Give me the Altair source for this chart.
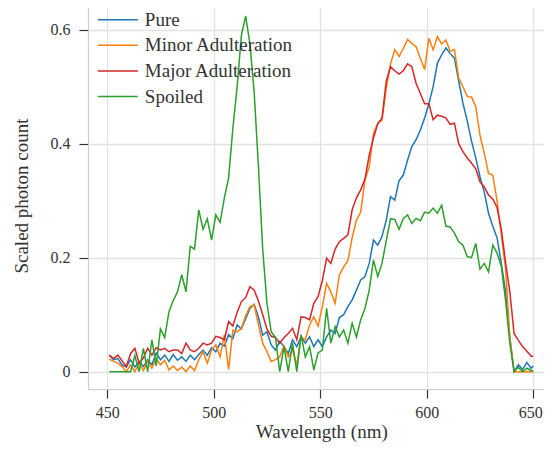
import altair as alt
import pandas as pd

# Wavelength grid (nm)
wavelengths = list(range(451, 650, 2)) + [650]

series_names = ["Pure", "Minor Adulteration", "Major Adulteration", "Spoiled"]
series_colors = ["#1f77b4", "#ff7f0e", "#d62728", "#2ca02c"]

pure = [
    0.029, 0.021, 0.023, 0.012, 0.008, 0.021, 0.008, 0.018, 0.009, 0.021,
    0.012, 0.033, 0.021, 0.029, 0.018, 0.030, 0.020, 0.026, 0.018, 0.029,
    0.021, 0.030, 0.038, 0.029, 0.042, 0.035, 0.050, 0.045, 0.065, 0.058,
    0.082, 0.075, 0.093, 0.111, 0.118, 0.096, 0.064, 0.070, 0.047, 0.038,
    0.053, 0.044, 0.032, 0.056, 0.044, 0.061, 0.050, 0.061, 0.044, 0.056,
    0.044, 0.061, 0.073, 0.067, 0.095, 0.100, 0.114, 0.126, 0.143, 0.161,
    0.167, 0.190, 0.231, 0.222, 0.237, 0.266, 0.307, 0.301, 0.335, 0.345,
    0.371, 0.395, 0.407, 0.424, 0.445, 0.470, 0.500, 0.541, 0.556, 0.568,
    0.558, 0.550, 0.510, 0.471, 0.440, 0.405, 0.375, 0.342, 0.315, 0.278,
    0.255, 0.235, 0.190, 0.140, 0.060, 0.000, 0.012, 0.004, 0.016, 0.006,
    0.010,
]

minor = [
    0.022, 0.018, 0.015, 0.009, 0.000, 0.012, 0.000, 0.015, 0.002, 0.018,
    0.006, 0.023, 0.012, 0.020, 0.003, 0.010, 0.002, 0.008, 0.000, 0.010,
    0.002, 0.021, 0.035, 0.015, 0.038, 0.047, 0.026, 0.065, 0.004, 0.073,
    0.070, 0.076, 0.098, 0.114, 0.117, 0.082, 0.050, 0.035, 0.018, 0.021,
    0.026, 0.045, 0.026, 0.038, 0.012, 0.061, 0.056, 0.082, 0.096, 0.080,
    0.114, 0.155, 0.140, 0.120, 0.170, 0.184, 0.195, 0.235, 0.266, 0.280,
    0.336, 0.360, 0.418, 0.436, 0.441, 0.497, 0.540, 0.565, 0.553, 0.567,
    0.583, 0.576, 0.570, 0.550, 0.530, 0.585, 0.565, 0.588, 0.575, 0.582,
    0.562, 0.565, 0.515, 0.500, 0.483, 0.482, 0.465, 0.415, 0.383, 0.348,
    0.345, 0.300, 0.240, 0.180, 0.060, 0.000, 0.000, 0.000, 0.000, 0.000,
    0.000,
]

major = [
    0.029, 0.023, 0.029, 0.019, 0.009, 0.032, 0.041, 0.015, 0.024, 0.041,
    0.029, 0.042, 0.038, 0.041, 0.035, 0.038, 0.038, 0.032, 0.050, 0.038,
    0.035, 0.041, 0.050, 0.047, 0.050, 0.062, 0.060, 0.056, 0.088, 0.080,
    0.104, 0.123, 0.130, 0.149, 0.143, 0.124, 0.100, 0.075, 0.062, 0.060,
    0.050, 0.060, 0.067, 0.076, 0.056, 0.096, 0.095, 0.091, 0.120, 0.132,
    0.160, 0.199, 0.190, 0.215, 0.228, 0.234, 0.240, 0.284, 0.305, 0.319,
    0.338, 0.380, 0.410, 0.435, 0.445, 0.510, 0.535, 0.528, 0.522, 0.528,
    0.540, 0.535, 0.506, 0.488, 0.470, 0.470, 0.442, 0.450, 0.448, 0.445,
    0.434, 0.436, 0.400, 0.386, 0.375, 0.366, 0.356, 0.333, 0.324, 0.310,
    0.303, 0.288, 0.250, 0.192, 0.140, 0.067, 0.055, 0.044, 0.036, 0.027,
    0.027,
]

spoiled = [
    0.000, 0.000, 0.000, 0.000, 0.000, 0.000, 0.028, 0.000, 0.041, 0.000,
    0.056, 0.010, 0.075, 0.060, 0.105, 0.125, 0.140, 0.170, 0.140, 0.220,
    0.215, 0.284, 0.250, 0.268, 0.231, 0.275, 0.262, 0.305, 0.340, 0.427,
    0.500, 0.590, 0.624, 0.575, 0.490, 0.360, 0.215, 0.120, 0.070, 0.060,
    0.000, 0.044, 0.000, 0.050, 0.000, 0.065, 0.026, 0.044, 0.003, 0.033,
    0.038, 0.111, 0.050, 0.079, 0.061, 0.073, 0.050, 0.085, 0.061, 0.091,
    0.111, 0.143, 0.196, 0.167, 0.190, 0.230, 0.268, 0.267, 0.250, 0.269,
    0.275, 0.260, 0.269, 0.265, 0.280, 0.278, 0.287, 0.278, 0.292, 0.255,
    0.254, 0.243, 0.228, 0.222, 0.202, 0.200, 0.225, 0.180, 0.190, 0.175,
    0.222, 0.208, 0.185, 0.125, 0.050, 0.000, 0.008, 0.000, 0.006, 0.002,
    0.000,
]

x_ticks = [450, 500, 550, 600, 650]
y_ticks = [0, 0.2, 0.4, 0.6]

rows = []
for name, vals in zip(series_names, [pure, minor, major, spoiled]):
    for w, v in zip(wavelengths, vals):
        rows.append({"Wavelength": w, "Value": v, "Series": name})
df = pd.DataFrame(rows)

FONT = "Liberation Serif"
TXT = "#333333"
GRID = "#e2e2e2"
SPINE = "#cccccc"

axis_common = dict(
    domain=True,
    domainColor=SPINE,
    domainWidth=1.2,
    ticks=True,
    tickColor=TXT,
    tickSize=9,
    tickWidth=1.2,
    grid=True,
    gridColor=GRID,
    gridWidth=1.3,
    labelFont=FONT,
    labelFontSize=16,
    labelColor=TXT,
    titleFont=FONT,
    titleFontSize=19,
    titleFontWeight="normal",
    titleColor=TXT,
    titleBaseline="alphabetic",
)

chart = (
    alt.Chart(df)
    .mark_line(strokeWidth=1.5)
    .encode(
        x=alt.X(
            "Wavelength:Q",
            scale=alt.Scale(domain=[441, 655.04], nice=False, zero=False),
            axis=alt.Axis(
                values=x_ticks,
                title="Wavelength (nm)",
                titleX=233.3,
                titleY=48,
                labelPadding=6,
                labelOffset={"condition": {"test": "datum.value === 650", "value": -3}, "value": 0},
                **axis_common,
            ),
        ),
        y=alt.Y(
            "Value:Q",
            scale=alt.Scale(domain=[-0.0304, 0.6486], nice=False, zero=False),
            axis=alt.Axis(
                values=y_ticks,
                format="~g",
                title="Scaled photon count",
                titleX=-61,
                titleY=193.5,
                labelPadding=9,
                **axis_common,
            ),
        ),
        color=alt.Color(
            "Series:N",
            scale=alt.Scale(domain=series_names, range=series_colors),
            sort=series_names,
            legend=alt.Legend(
                title=None,
                orient="none",
                legendX=18.85,
                legendY=6.7,
                symbolType="M-2,0H2",
                symbolSize=400,
                symbolStrokeWidth=1.5,
                labelFont=FONT,
                labelFontSize=19,
                labelColor=TXT,
                labelOffset=16,
                labelLimit=400,
                rowPadding=4.6,
                padding=0,
            ),
        ),
    )
    .properties(
        width=456,
        height=387,
        padding={"left": 80, "top": -6, "right": 0, "bottom": 53},
        autosize=alt.AutoSizeParams(type="none"),
        background="white",
    )
    .configure(
        font=FONT,
        style={"guide-label": {"font": FONT}, "guide-title": {"font": FONT}},
    )
    .configure_view(stroke=None)
)

chart.save("out.html", embed_options={"renderer": "svg", "actions": False})
